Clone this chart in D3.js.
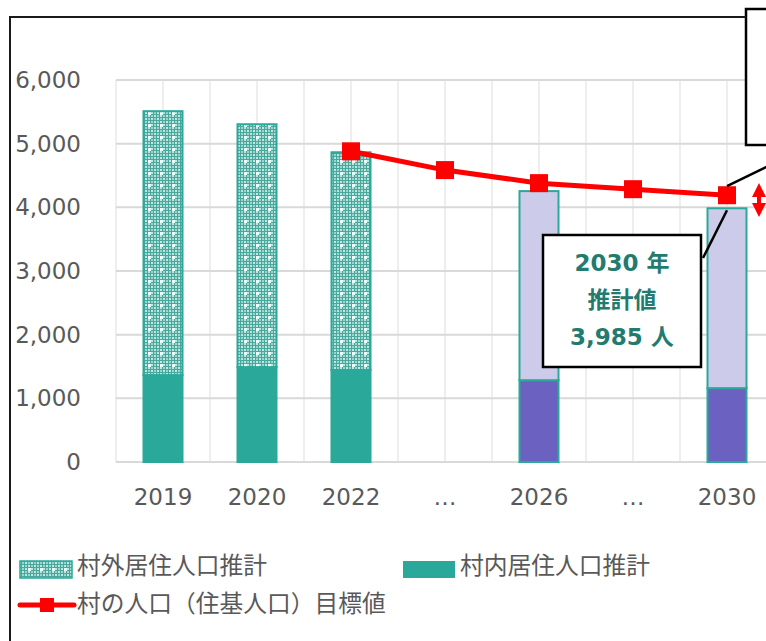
<!DOCTYPE html>
<html>
<head>
<meta charset="utf-8">
<script src="https://cdn.jsdelivr.net/npm/d3@7"></script>
<style>
  body { margin: 0; background: #fff; }
  svg { display: block; overflow: hidden; }
  .tick text { font-family: "DejaVu Sans", Verdana, sans-serif; font-size: 23px; fill: #595959; }
  .legend text { font-family: "Noto Sans CJK JP", sans-serif; font-size: 23.75px; fill: #595959; }
  .callout text { font-family: "DejaVu Sans", "Noto Sans CJK JP", sans-serif; font-size: 23px; font-weight: bold; fill: #237b70; }
</style>
</head>
<body>
<div id="chart"></div>
<script>
/////////////////////////////////////
///      DATA
/////////////////////////////////////
var categories = ["2019", "2020", "2022", "…", "2026", "…", "2030"];
var projected  = [false, false, false, false, true, false, true];
// 村内居住人口推計 (lower segment)
var insideValues  = [1365, 1490, 1445, null, 1285, null, 1160];
// 村外居住人口推計 (upper segment)
var outsideValues = [4145, 3815, 3420, null, 2970, null, 2825];
// 村の人口（住基人口）目標値
var targetValues  = [null, null, 4880, 4585, 4380, 4285, 4190];
var yTicks = [0, 1000, 2000, 3000, 4000, 5000, 6000];
var legendLabels = ["村外居住人口推計", "村内居住人口推計", "村の人口（住基人口）目標値"];
var calloutLines = ["2030 年", "推計値", "3,985 人"];

/////////////////////////////////////
///      SETUP
/////////////////////////////////////
var W = 766, H = 641;
var svg = d3.select("#chart").append("svg")
  .attr("width", W)
  .attr("height", H);

var defs = svg.append("defs");
var pat = defs.append("pattern")
  .attr("id", "dotgrid")
  .attr("patternUnits", "userSpaceOnUse")
  .attr("width", 12)
  .attr("height", 12);
pat.append("rect").attr("width", 12).attr("height", 12).attr("fill", "#4aa79c");
// small light cells make the fine grid texture
for (var i = 0; i < 4; i++) {
  for (var j = 0; j < 4; j++) {
    pat.append("rect")
      .attr("x", i * 3 + 1).attr("y", j * 3 + 1)
      .attr("width", 2).attr("height", 2)
      .attr("fill", (i + j) % 2 ? "#bfe8e2" : "#9ad6ce");
  }
}
pat.append("rect").attr("x", 4).attr("y", 4).attr("width", 3).attr("height", 3).attr("fill", "#e8fffc");

var x = d3.scaleBand()
  .domain(d3.range(categories.length))
  .range([116, 774])
  .paddingInner(0.585)
  .paddingOuter(0.2925);

var y = d3.scaleLinear()
  .domain([0, 6000])
  .range([462, 80]);

var x0 = x.range()[0], x1 = x.range()[1];
var halfStep = x.step() / 2;

/////////////////////////////////////
///      GRID
/////////////////////////////////////
svg.append("g").selectAll("line")
  .data(d3.range(categories.length * 2 + 1))
  .join("line")
  .attr("x1", function(k){ return x0 + k * halfStep; })
  .attr("x2", function(k){ return x0 + k * halfStep; })
  .attr("y1", y(6000))
  .attr("y2", y(0))
  .attr("stroke", "#eeeeee")
  .attr("stroke-width", 2);

svg.append("g").selectAll("line")
  .data(yTicks)
  .join("line")
  .attr("x1", x0)
  .attr("x2", x1)
  .attr("y1", function(d){ return y(d); })
  .attr("y2", function(d){ return y(d); })
  .attr("stroke", "#d9d9d9")
  .attr("stroke-width", 2);

/////////////////////////////////////
///      AXES
/////////////////////////////////////
var yAxis = svg.append("g")
  .attr("transform", "translate(" + x0 + ",0)")
  .call(d3.axisLeft(y).tickValues(yTicks).tickFormat(d3.format(",")).tickSize(0).tickPadding(35));
yAxis.select(".domain").remove();

var xAxis = svg.append("g")
  .attr("transform", "translate(0," + y(0) + ")")
  .call(d3.axisBottom(x).tickFormat(function(i){ return categories[i]; }).tickSize(0));
xAxis.select(".domain").remove();
xAxis.selectAll("text").attr("y", 35).attr("dy", "0.35em");

/////////////////////////////////////
///      BARS
/////////////////////////////////////
var idx = d3.range(categories.length).filter(function(i){ return insideValues[i] != null; });

var bars = svg.append("g");
bars.selectAll("rect.inside")
  .data(idx)
  .join("rect")
  .attr("class", "inside")
  .attr("x", function(i){ return x(i); })
  .attr("width", x.bandwidth())
  .attr("y", function(i){ return y(insideValues[i]); })
  .attr("height", function(i){ return y(0) - y(insideValues[i]); })
  .attr("fill", function(i){ return projected[i] ? "#6a61c0" : "#2aa99b"; })
  .attr("stroke", "#2aa99b")
  .attr("stroke-width", 2);

bars.selectAll("rect.outside")
  .data(idx)
  .join("rect")
  .attr("class", "outside")
  .attr("x", function(i){ return x(i); })
  .attr("width", x.bandwidth())
  .attr("y", function(i){ return y(insideValues[i] + outsideValues[i]); })
  .attr("height", function(i){ return y(insideValues[i]) - y(insideValues[i] + outsideValues[i]); })
  .attr("fill", function(i){ return projected[i] ? "#cccbea" : "url(#dotgrid)"; })
  .attr("stroke", "#2aa99b")
  .attr("stroke-width", 2);

/////////////////////////////////////
///      TARGET LINE
/////////////////////////////////////
var lineIdx = d3.range(categories.length).filter(function(i){ return targetValues[i] != null; });
var cx = function(i){ return x(i) + x.bandwidth() / 2; };

svg.append("path")
  .datum(lineIdx)
  .attr("fill", "none")
  .attr("stroke", "#ff0000")
  .attr("stroke-width", 5)
  .attr("d", d3.line().x(cx).y(function(i){ return y(targetValues[i]); }));

svg.append("g").selectAll("rect")
  .data(lineIdx)
  .join("rect")
  .attr("x", function(i){ return cx(i) - 9; })
  .attr("y", function(i){ return y(targetValues[i]) - 9; })
  .attr("width", 18)
  .attr("height", 18)
  .attr("fill", "#ff0000");

/////////////////////////////////////
///      CALLOUTS
/////////////////////////////////////
var last = categories.length - 1;
var lastTop = y(insideValues[last] + outsideValues[last]);

// lower callout
svg.append("line")
  .attr("x1", 703).attr("y1", 258)
  .attr("x2", cx(last)).attr("y2", lastTop + 2)
  .attr("stroke", "#000").attr("stroke-width", 2.5);

var callout = svg.append("g").attr("class", "callout");
callout.append("rect")
  .attr("x", 543).attr("y", 235)
  .attr("width", 158).attr("height", 132)
  .attr("fill", "#fff")
  .attr("stroke", "#000")
  .attr("stroke-width", 2.5);
callout.selectAll("text")
  .data(calloutLines)
  .join("text")
  .attr("x", 622)
  .attr("y", function(d, k){ return 263 + k * 37; })
  .attr("dy", "0.35em")
  .attr("text-anchor", "middle")
  .text(function(d){ return d; });

// upper callout (mostly off the right edge)
svg.append("line")
  .attr("x1", cx(last)).attr("y1", y(targetValues[last]) - 9)
  .attr("x2", 780).attr("y2", y(targetValues[last]) - 35)
  .attr("stroke", "#000").attr("stroke-width", 2.5);
svg.append("rect")
  .attr("x", 746).attr("y", 9)
  .attr("width", 60).attr("height", 136)
  .attr("fill", "#fff")
  .attr("stroke", "#000")
  .attr("stroke-width", 2.5);

// red resize arrow
svg.append("path")
  .attr("d", "M759,183 L766,197 L761,197 L761,203 L766,203 L759,217 L752,203 L757,203 L757,197 L752,197 Z")
  .attr("fill", "#ff0000");

/////////////////////////////////////
///      FRAME
/////////////////////////////////////
svg.append("path")
  .attr("d", "M10," + H + " L10,17 L746,17")
  .attr("fill", "none")
  .attr("stroke", "#1a1a1a")
  .attr("stroke-width", 2);

/////////////////////////////////////
///      LEGEND
/////////////////////////////////////
var legend = svg.append("g").attr("class", "legend");
legend.append("rect")
  .attr("x", 20).attr("y", 561).attr("width", 52).attr("height", 17)
  .attr("fill", "url(#dotgrid)").attr("stroke", "#2aa99b").attr("stroke-width", 1.5);
legend.append("text").attr("x", 77).attr("y", 566).attr("dy", "0.35em").text(legendLabels[0]);

legend.append("rect")
  .attr("x", 403).attr("y", 561).attr("width", 52).attr("height", 17)
  .attr("fill", "#2aa99b");
legend.append("text").attr("x", 460).attr("y", 566).attr("dy", "0.35em").text(legendLabels[1]);

legend.append("line")
  .attr("x1", 20).attr("x2", 74).attr("y1", 605).attr("y2", 605)
  .attr("stroke", "#ff0000").attr("stroke-width", 5).attr("stroke-linecap", "round");
legend.append("rect")
  .attr("x", 40).attr("y", 598).attr("width", 14).attr("height", 14)
  .attr("fill", "#ff0000");
legend.append("text").attr("x", 77).attr("y", 604).attr("dy", "0.35em").text(legendLabels[2]);
</script>
</body>
</html>
